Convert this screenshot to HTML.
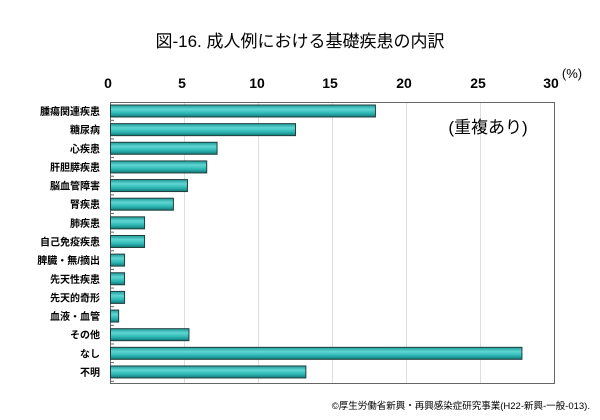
<!DOCTYPE html>
<html><head><meta charset="utf-8"><style>body{margin:0;background:#fff}</style></head><body>
<svg width="600" height="415" xmlns="http://www.w3.org/2000/svg" font-family="Liberation Sans, Noto Sans CJK JP, sans-serif">
<defs><linearGradient id="g" x1="0" y1="0" x2="0" y2="1">
<stop offset="0" stop-color="#1e9a98"/><stop offset="0.35" stop-color="#5fd6d3"/><stop offset="0.7" stop-color="#2bb5b2"/><stop offset="1" stop-color="#137775"/></linearGradient></defs>
<text x="300" y="47" font-size="17" text-anchor="middle" fill="#000">図-16. 成人例における基礎疾患の内訳</text>
<g font-size="14" font-weight="bold" text-anchor="middle">
<text x="108" y="88">0</text><text x="182" y="88">5</text><text x="257" y="88">10</text><text x="330" y="88">15</text><text x="404" y="88">20</text><text x="478" y="88">25</text><text x="551" y="88">30</text></g>
<text x="572" y="78" font-size="13" text-anchor="middle">(%)</text>
<g stroke="#ddd" stroke-width="1">
<line x1="184.5" y1="102" x2="184.5" y2="384"/><line x1="258.5" y1="102" x2="258.5" y2="384"/><line x1="332.5" y1="102" x2="332.5" y2="384"/><line x1="406.5" y1="102" x2="406.5" y2="384"/><line x1="480.5" y1="102" x2="480.5" y2="384"/></g>
<rect x="110.5" y="102.5" width="444" height="281" fill="none" stroke="#666"/>
<g id="bars" fill="url(#g)" stroke="#1f3f3f" stroke-width="1"></g>
<text x="488" y="133" font-size="17" text-anchor="middle">(重複あり)</text>
<g id="labels" font-size="10" font-weight="bold" text-anchor="end"></g>
<text x="590" y="409" font-size="9.5" text-anchor="end">©厚生労働省新興・再興感染症研究事業(H22-新興-一般-013).</text>
<script>
var d=[["腫瘍関連疾患",17.9],["糖尿病",12.5],["心疾患",7.2],["肝胆膵疾患",6.5],["脳血管障害",5.2],["腎疾患",4.25],["肺疾患",2.3],["自己免疫疾患",2.3],["脾臓・無/摘出",0.95],["先天性疾患",0.95],["先天的奇形",0.95],["血液・血管",0.55],["その他",5.3],["なし",27.8],["不明",13.2]];
var b=document.getElementById('bars'),l=document.getElementById('labels'),ns="http://www.w3.org/2000/svg";
d.forEach(function(r,i){var cy=111+i*18.64;
var e=document.createElementNS(ns,'rect');e.setAttribute('x',110.5);e.setAttribute('y',cy-6);e.setAttribute('width',r[1]*14.8);e.setAttribute('height',12);b.appendChild(e);
var t=document.createElementNS(ns,'text');t.setAttribute('x',100);t.setAttribute('y',cy+4);t.textContent=r[0];l.appendChild(t);
var k=document.createElementNS(ns,'line');k.setAttribute('x1',110);k.setAttribute('x2',114);k.setAttribute('y1',cy+9.3);k.setAttribute('y2',cy+9.3);k.setAttribute('stroke','#666');b.parentNode.appendChild(k);});
</script>
</svg>
</body></html>
